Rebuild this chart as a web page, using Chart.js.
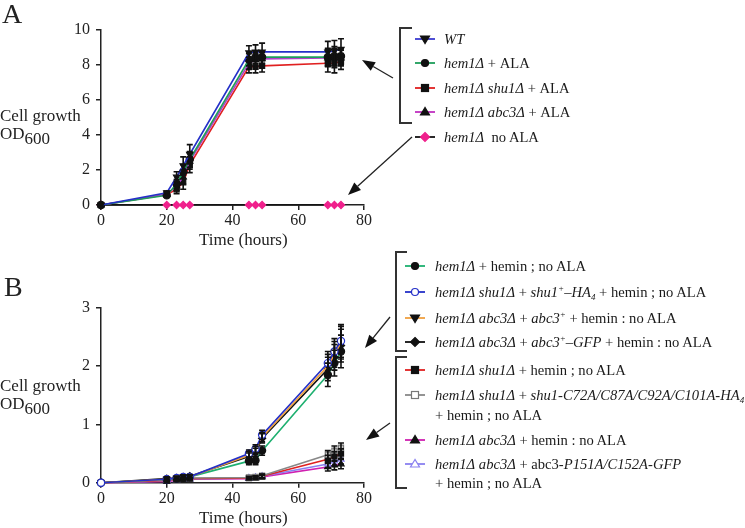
<!DOCTYPE html>
<html><head><meta charset="utf-8">
<script src="https://cdn.jsdelivr.net/npm/chart.js@4/dist/chart.umd.min.js"></script>
<style>
body{margin:0;width:745px;height:528px;background:#fff;position:relative;overflow:hidden;font-family:"Liberation Serif","Times New Roman",serif;color:#222;}
.abs{position:absolute;white-space:nowrap;line-height:18px;}
.lg{position:absolute;white-space:nowrap;font-size:14.6px;line-height:18px;transform:translateY(-50%);color:#1a1a1a;}
canvas{position:absolute;}
i{font-style:italic;}
sup{font-size:9px;vertical-align:6px;line-height:0;}
sub.s{font-size:9px;vertical-align:-3px;line-height:0;}
</style></head><body>
<canvas id="ca" width="380" height="250" style="left:0;top:0"></canvas>
<canvas id="cb" width="380" height="268" style="left:0;top:260px"></canvas>
<svg id="ov" width="745" height="528" style="position:absolute;left:0;top:0"></svg>
<div class="abs" style="left:2px;top:0px;font-size:28px;line-height:28px">A</div>
<div class="abs" style="left:4px;top:273px;font-size:28px;line-height:28px">B</div>
<div class="abs" style="left:0;top:107px;font-size:17px">Cell growth</div>
<div class="abs" style="left:0;top:125px;font-size:17px">OD<span style="font-size:17px;position:relative;top:5px">600</span></div>
<div class="abs" style="left:0;top:377px;font-size:17px">Cell growth</div>
<div class="abs" style="left:0;top:395px;font-size:17px">OD<span style="font-size:17px;position:relative;top:5px">600</span></div>
<div class="abs" style="left:199px;top:231px;font-size:17px">Time (hours)</div>
<div class="abs" style="left:199px;top:509px;font-size:17px">Time (hours)</div>
<div id="legends"></div>
<script>
// ---------- DATA ----------
const times = [0, 20, 23, 25, 27, 45, 47, 49, 69, 71, 73];

// Panel A
const aWT      = [0, 0.70, 1.60, 2.25, 2.90, 8.70, 8.75, 8.75, 8.75, 8.80, 8.90];
const aALA     = [0, 0.55, 1.20, 1.90, 2.60, 8.30, 8.45, 8.45, 8.45, 8.50, 8.50];
const aShu     = [0, 0.60, 0.90, 1.30, 2.30, 7.90, 7.90, 7.95, 8.10, 8.10, 8.20];
const aAbc     = [0, 0.60, 1.10, 1.60, 2.50, 8.10, 8.30, 8.35, 8.40, 8.40, 8.40];
const aNoALA   = [0, 0, 0, 0, 0, 0, 0, 0, 0, 0, 0];
const aErrHi   = [0, 0.10, 0.30, 0.50, 0.55, 0.40, 0.40, 0.50, 0.60, 0.60, 0.60];
const aErrLo   = [0, 0.10, 0.25, 0.40, 0.45, 0.35, 0.35, 0.35, 0.50, 0.55, 0.45];

// Panel B
const bHemin   = [0, 0.06, 0.07, 0.09, 0.10, 0.37, 0.38, 0.55, 1.85, 2.05, 2.25];
const bShuRes  = [0, 0.06, 0.08, 0.10, 0.10, 0.50, 0.58, 0.82, 2.05, 2.25, 2.43];
const bAbcRes  = [0, 0.06, 0.08, 0.10, 0.10, 0.47, 0.55, 0.78, 2.00, 2.20, 2.40];
const bAbcGFP  = [0, 0.07, 0.08, 0.10, 0.11, 0.45, 0.52, 0.76, 1.95, 2.15, 2.35];
const bShuDel  = [0, 0.04, 0.06, 0.07, 0.07, 0.08, 0.09, 0.11, 0.40, 0.45, 0.50];
const bShuMut  = [0, 0.05, 0.06, 0.08, 0.08, 0.09, 0.10, 0.12, 0.48, 0.55, 0.60];
const bAbcDel  = [0, 0.02, 0.04, 0.05, 0.06, 0.07, 0.08, 0.10, 0.27, 0.30, 0.32];
const bAbcMut  = [0, 0.03, 0.05, 0.06, 0.06, 0.08, 0.09, 0.11, 0.32, 0.37, 0.40];
const bErrUp   = [0, 0.03, 0.03, 0.03, 0.03, 0.06, 0.07, 0.08, 0.20, 0.22, 0.28];
const bErrLow  = [0, 0.02, 0.02, 0.02, 0.02, 0.02, 0.02, 0.03, 0.07, 0.08, 0.08];

const xTicks = [0, 20, 40, 60, 80];
const yTicksA = [0, 2, 4, 6, 8, 10];
const yTicksB = [0, 1, 2, 3];

// ---------- CHARTS ----------
const FONT = {family: '"Liberation Serif", "Times New Roman", serif', size: 16};
const errorBars = {
  id: 'errorBars',
  afterDatasetsDraw(chart) {
    const ctx = chart.ctx, ys = chart.scales.y;
    chart.data.datasets.forEach((ds, i) => {
      if (!ds.errors) return;
      const meta = chart.getDatasetMeta(i);
      meta.data.forEach((pt, j) => {
        const e = ds.errors[j]; if (!e) return;
        const v = ds.data[j].y;
        const y1 = ys.getPixelForValue(v + e), y2 = ys.getPixelForValue(v - e);
        ctx.save(); ctx.strokeStyle = '#111'; ctx.lineWidth = 1.6;
        ctx.beginPath();
        ctx.moveTo(pt.x, y1); ctx.lineTo(pt.x, y2);
        ctx.moveTo(pt.x - 3, y1); ctx.lineTo(pt.x + 3, y1);
        ctx.moveTo(pt.x - 3, y2); ctx.lineTo(pt.x + 3, y2);
        ctx.stroke(); ctx.restore();
      });
    });
  }
};

function ds(vals, line, style, fill, edge, errs, rot) {
  return {
    data: times.map((t, i) => ({x: t, y: vals[i]})),
    borderColor: line, borderWidth: 1.6, backgroundColor: fill,
    pointStyle: style, pointRadius: 3.6, pointBackgroundColor: fill,
    pointBorderColor: edge, pointBorderWidth: 1.2, pointRotation: rot || 0,
    errors: errs, clip: false, tension: 0
  };
}

function makeChart(id, datasets, yMax, yTicks, top, xHeight) {
  return new Chart(document.getElementById(id), {
    type: 'line',
    data: {datasets},
    plugins: [errorBars],
    options: {
      responsive: false, animation: false, devicePixelRatio: 1,
      layout: {padding: {top: top, right: 16, left: 0, bottom: 0}},
      plugins: {legend: {display: false}, tooltip: {enabled: false}},
      scales: {
        x: {type: 'linear', min: 0, max: 80,
            afterBuildTicks: s => { s.ticks = xTicks.map(v => ({value: v})); },
            afterFit: s => { s.height = xHeight; },
            grid: {drawOnChartArea: false, drawTicks: true, tickLength: 5, color: '#222', lineWidth: 1.5},
            border: {display: true, color: '#222', width: 1.5},
            ticks: {font: FONT, color: '#222', padding: 1, maxRotation: 0}},
        y: {type: 'linear', min: 0, max: yMax,
            afterBuildTicks: s => { s.ticks = yTicks.map(v => ({value: v})); },
            afterFit: s => { s.width = 101; },
            grid: {drawOnChartArea: false, drawTicks: true, tickLength: 5, color: '#222', lineWidth: 1.5},
            border: {display: true, color: '#222', width: 1.5},
            ticks: {font: FONT, color: '#222', padding: 6}}
      }
    }
  });
}

const BLK = '#111';
makeChart('ca', [
  ds(aWT,  '#2430c8', 'triangle', BLK, BLK, aErrHi, 180),
  ds(aALA, '#1e9e5a', 'circle',   BLK, BLK, aErrLo),
  ds(aAbc, '#b040c8', 'triangle', BLK, BLK, aErrLo),
  ds(aShu, '#e02020', 'rect',     BLK, BLK, aErrLo),
  ds(aNoALA, '#111',  'rectRot',  '#f0208c', '#f0208c', null)
], 10, yTicksA, 30, 45);

makeChart('cb', [
  ds(bShuRes, '#2430c8', 'circle',   '#fff', '#2430c8', bErrUp),
  ds(bAbcRes, '#f0a040', 'triangle', BLK, BLK, bErrUp, 180),
  ds(bAbcGFP, '#111',    'rectRot',  BLK, BLK, bErrUp),
  ds(bHemin,  '#1eb070', 'circle',   BLK, BLK, bErrUp),
  ds(bShuMut, '#888888', 'rect',     '#ccc', '#777', bErrLow),
  ds(bShuDel, '#e02020', 'rect',     BLK, BLK, bErrLow),
  ds(bAbcMut, '#8a80f0', 'triangle', '#fff', '#8a80f0', bErrLow),
  ds(bAbcDel, '#d020b0', 'triangle', BLK, BLK, bErrLow)
], 3, yTicksB, 47.7, 45.3);

// ---------- OVERLAY: legends, brackets, arrows ----------
const NS = 'http://www.w3.org/2000/svg';
const svg = document.getElementById('ov');
function el(tag, attrs) { const e = document.createElementNS(NS, tag); for (const k in attrs) e.setAttribute(k, attrs[k]); svg.appendChild(e); return e; }
function marker(shape, cx, cy, fill, stroke) {
  const a = {fill, stroke, 'stroke-width': 1.2};
  if (shape === 'circle') el('circle', Object.assign({cx, cy, r: 3.5}, a));
  else if (shape === 'rect') el('rect', Object.assign({x: cx - 3.5, y: cy - 3.5, width: 7, height: 7}, a));
  else if (shape === 'tri') el('polygon', Object.assign({points: `${cx},${cy-4.5} ${cx-4.5},${cy+3} ${cx+4.5},${cy+3}`}, a));
  else if (shape === 'tridown') el('polygon', Object.assign({points: `${cx},${cy+4.5} ${cx-4.5},${cy-3} ${cx+4.5},${cy-3}`}, a));
  else if (shape === 'diamond') el('polygon', Object.assign({points: `${cx},${cy-4.5} ${cx+4.5},${cy} ${cx},${cy+4.5} ${cx-4.5},${cy}`}, a));
}
function arrow(x1, y1, x2, y2) {
  const dx = x2 - x1, dy = y2 - y1, L = Math.hypot(dx, dy), ux = dx / L, uy = dy / L;
  const hl = 13, hw = 5;
  const bx = x2 - ux * hl, by = y2 - uy * hl;
  el('line', {x1, y1, x2: bx, y2: by, stroke: '#222', 'stroke-width': 1.3});
  el('polygon', {points: `${x2},${y2} ${bx - uy * hw},${by + ux * hw} ${bx + uy * hw},${by - ux * hw}`, fill: '#111'});
}
function bracket(x, y1, y2, x2) {
  el('polyline', {points: `${x2},${y1} ${x},${y1} ${x},${y2} ${x2},${y2}`, fill: 'none', stroke: '#333', 'stroke-width': 2});
}
const legendsDiv = document.getElementById('legends');
function item(lx, tx, y, line, shape, fill, stroke, html) {
  el('line', {x1: lx, y1: y, x2: lx + 20, y2: y, stroke: line, 'stroke-width': 1.8});
  marker(shape, lx + 10, y, fill, stroke);
  const d = document.createElement('div'); d.className = 'lg';
  d.style.left = tx + 'px'; d.style.top = y + 'px'; d.innerHTML = html;
  legendsDiv.appendChild(d);
}
const H = '<i>hem1Δ</i>';
// Panel A legend
bracket(400, 28, 123, 412);
item(415, 444, 39,  '#3a3ad0', 'tridown', BLK, BLK, '<i>WT</i>');
item(415, 444, 63,  '#1e9e5a', 'circle',  BLK, BLK, H + ' + ALA');
item(415, 444, 88,  '#e02020', 'rect',    BLK, BLK, H + ' <i>shu1Δ</i> + ALA');
item(415, 444, 112, '#c030c0', 'tri',     BLK, BLK, H + ' <i>abc3Δ</i> + ALA');
item(415, 444, 137, '#111',    'diamond', '#f0208c', '#f0208c', H + '&nbsp; no ALA');
arrow(393, 78, 362, 60);
arrow(412, 137, 348, 195);
// Panel B legend
bracket(396, 252, 351, 407);
bracket(396, 357, 488, 407);
item(405, 435, 266, '#1eb070', 'circle',  BLK, BLK, H + ' + hemin ; no ALA');
item(405, 435, 292, '#2430c8', 'circle',  '#fff', '#2430c8', H + ' <i>shu1Δ</i> + <i>shu1<sup>+</sup>–HA<sub class="s">4</sub></i> + hemin ; no ALA');
item(405, 435, 318, '#f0a040', 'tridown', BLK, BLK, H + ' <i>abc3Δ</i> + <i>abc3<sup>+</sup></i> + hemin : no ALA');
item(405, 435, 342, '#111',    'diamond', BLK, BLK, H + ' <i>abc3Δ</i> + <i>abc3<sup>+</sup>–GFP</i> + hemin : no ALA');
item(405, 435, 370, '#e02020', 'rect',    BLK, BLK, H + ' <i>shu1Δ</i> + hemin ; no ALA');
item(405, 435, 395, '#888888', 'rect',    '#fff', '#777', H + ' <i>shu1Δ</i> + <i>shu1-C72A/C87A/C92A/C101A-HA<sub class="s">4</sub></i>');
item(405, 435, 440, '#d020b0', 'tri',     BLK, BLK, H + ' <i>abc3Δ</i> + hemin : no ALA');
item(405, 435, 464, '#8a80f0', 'tri',     '#fff', '#8a80f0', H + ' <i>abc3Δ</i> + abc3-<i>P151A/C152A-GFP</i>');
[[415, '+ hemin ; no ALA'], [483, '+ hemin ; no ALA']].forEach(([y, t]) => {
  const d = document.createElement('div'); d.className = 'lg';
  d.style.left = '435px'; d.style.top = y + 'px'; d.textContent = t; legendsDiv.appendChild(d);
});
arrow(390, 317, 365, 348);
arrow(390, 423, 366, 440);
</script>
</body></html>
